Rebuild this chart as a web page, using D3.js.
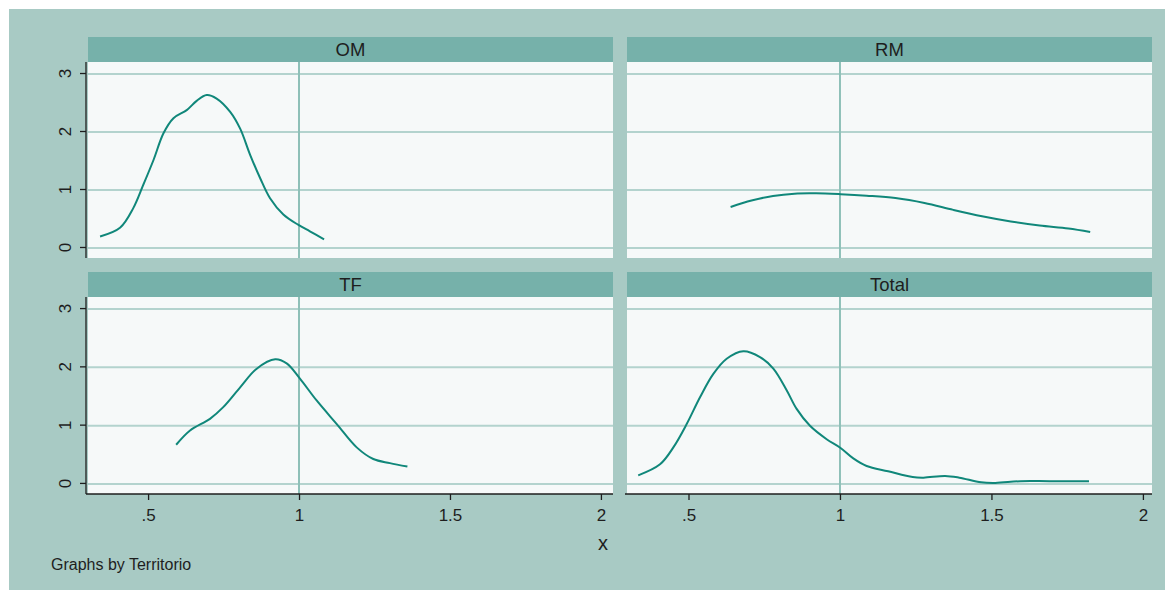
<!DOCTYPE html>
<html>
<head>
<meta charset="utf-8">
<script src="https://cdn.jsdelivr.net/npm/d3@7"></script>
<style>
  html, body { margin: 0; padding: 0; background: #ffffff; }
  svg { display: block; }
  text { font-family: "Liberation Sans", Arial, Helvetica, sans-serif; fill: #1e1e1e; }
</style>
</head>
<body>
<svg id="chart" width="1165" height="590"></svg>
<script>
// ---- Data (kernel density curves by Territorio) ----
const panels = ["OM", "RM", "TF", "Total"];

const omX = [0.341, 0.407, 0.451, 0.484, 0.518, 0.551, 0.584, 0.628, 0.661, 0.694, 0.727, 0.772, 0.805, 0.838, 0.871, 0.904, 0.948, 0.998, 1.036, 1.083];
const omY = [0.18, 0.33, 0.67, 1.07, 1.50, 1.96, 2.22, 2.36, 2.52, 2.62, 2.56, 2.33, 2.04, 1.59, 1.19, 0.84, 0.56, 0.38, 0.27, 0.13];

const rmX = [0.639, 0.708, 0.779, 0.850, 0.921, 1.002, 1.088, 1.183, 1.279, 1.374, 1.469, 1.564, 1.659, 1.754, 1.826];
const rmY = [0.69, 0.80, 0.88, 0.92, 0.925, 0.91, 0.885, 0.845, 0.76, 0.64, 0.53, 0.44, 0.37, 0.32, 0.26];

const tfX = [0.593, 0.639, 0.705, 0.749, 0.805, 0.860, 0.921, 0.959, 1.003, 1.059, 1.125, 1.191, 1.246, 1.301, 1.359];
const tfY = [0.655, 0.90, 1.10, 1.30, 1.64, 1.96, 2.12, 2.05, 1.79, 1.41, 1.01, 0.61, 0.41, 0.34, 0.28];

const totX = [0.334, 0.406, 0.450, 0.494, 0.538, 0.582, 0.626, 0.681, 0.736, 0.780, 0.824, 0.857, 0.901, 0.956, 1.002, 1.044, 1.088, 1.159, 1.240, 1.276, 1.347, 1.394, 1.466, 1.513, 1.596, 1.691, 1.822];
const totY = [0.13, 0.32, 0.61, 1.01, 1.47, 1.87, 2.13, 2.26, 2.16, 1.96, 1.59, 1.27, 0.98, 0.75, 0.60, 0.42, 0.29, 0.20, 0.10, 0.09, 0.12, 0.09, 0.01, 0.00, 0.03, 0.03, 0.03];

const xTicks = [0.5, 1, 1.5, 2];
const xTickLabels = [".5", "1", "1.5", "2"];
const yTicks = [0, 1, 2, 3];
const yTickLabels = ["0", "1", "2", "3"];
const xLineAt = 1;
const xTitle = "x";
const note = "Graphs by Territorio";

const series = {
  OM: omX.map((x, i) => [x, omY[i]]),
  RM: rmX.map((x, i) => [x, rmY[i]]),
  TF: tfX.map((x, i) => [x, tfY[i]]),
  Total: totX.map((x, i) => [x, totY[i]])
};

// ---- Styling / layout ----
const C = {
  outer: "#a8cac4",
  strip: "#76b1aa",
  plot: "#f6f9f9",
  grid: "#b3d3ce",
  xline: "#8ec0b8",
  line: "#10877a",
  axis: "#1e1e1e"
};

const svg = d3.select("#chart");
svg.append("rect").attr("x", 9).attr("y", 9).attr("width", 1165 - 9).attr("height", 590 - 9).attr("fill", C.outer);

const cols = [{x0: 88, x1: 613, dom: [0.301, 2.040]}, {x0: 627, x1: 1152, dom: [0.297, 2.030]}];
const rows = [{s0: 37, p0: 62, p1: 258}, {s0: 272, p0: 297, p1: 494}];
const yDomain = [-0.19, 3.19];

panels.forEach((name, i) => {
  const c = cols[i % 2], r = rows[Math.floor(i / 2)];
  const x = d3.scaleLinear().domain(c.dom).range([c.x0, c.x1]);
  const y = d3.scaleLinear().domain(yDomain).range([r.p1, r.p0]);
  const g = svg.append("g");

  // strip
  g.append("rect").attr("x", c.x0).attr("y", r.s0).attr("width", c.x1 - c.x0).attr("height", r.p0 - r.s0).attr("fill", C.strip);
  g.append("text").attr("x", (c.x0 + c.x1) / 2).attr("y", r.s0 + 19)
    .attr("text-anchor", "middle").attr("font-size", 18.5).text(name);

  // plot region
  g.append("rect").attr("x", c.x0).attr("y", r.p0).attr("width", c.x1 - c.x0).attr("height", r.p1 - r.p0).attr("fill", C.plot);

  // horizontal grid
  g.selectAll(".grid").data(yTicks).enter().append("line")
    .attr("x1", c.x0).attr("x2", c.x1)
    .attr("y1", d => y(d) + 1).attr("y2", d => y(d) + 1)
    .attr("stroke", C.grid).attr("stroke-width", 2);

  // xline
  g.append("line").attr("x1", x(xLineAt)).attr("x2", x(xLineAt))
    .attr("y1", r.p0).attr("y2", r.p1).attr("stroke", C.xline).attr("stroke-width", 2);

  // density curve
  g.append("path").datum(series[name])
    .attr("fill", "none").attr("stroke", C.line).attr("stroke-width", 2)
    .attr("d", d3.line().x(d => x(d[0])).y(d => y(d[1])).curve(d3.curveCatmullRom.alpha(0.5)));

  // y axis on left column
  if (i % 2 === 0) {
    const ya = g.append("g").attr("transform", `translate(${c.x0 - 2},0)`)
      .call(d3.axisLeft(y).tickValues(yTicks).tickFormat((d, k) => yTickLabels[k]).tickSize(6).tickPadding(8));
    ya.select(".domain").attr("d", `M0,${r.p0}V${r.p1}`).attr("stroke", C.axis).attr("stroke-width", 1.3);
    ya.selectAll(".tick line").attr("stroke", C.axis).attr("stroke-width", 1.3);
    ya.selectAll(".tick text")
      .attr("font-size", 17).attr("fill", "#1e1e1e")
      .attr("text-anchor", "middle")
      .attr("x", null)
      .attr("transform", "translate(-21,0) rotate(-90)")
      .attr("dy", "0.35em");
  }
  // x axis on bottom row
  if (i >= 2) {
    const xa = g.append("g").attr("transform", `translate(0,${r.p1})`)
      .call(d3.axisBottom(x).tickValues(xTicks).tickFormat((d, k) => xTickLabels[k]).tickSize(6).tickPadding(9));
    xa.select(".domain").attr("d", `M${c.x0 - 2},0H${c.x1}`).attr("stroke", C.axis).attr("stroke-width", 1.3);
    xa.selectAll(".tick line").attr("stroke", C.axis).attr("stroke-width", 1.3);
    xa.selectAll(".tick text").attr("font-size", 17).attr("fill", "#1e1e1e");
  }
});

// axis title and note
svg.append("text").attr("x", 603).attr("y", 550).attr("text-anchor", "middle").attr("font-size", 20).text(xTitle);
svg.append("text").attr("x", 51).attr("y", 570).attr("font-size", 16).text(note);
</script>
</body>
</html>
